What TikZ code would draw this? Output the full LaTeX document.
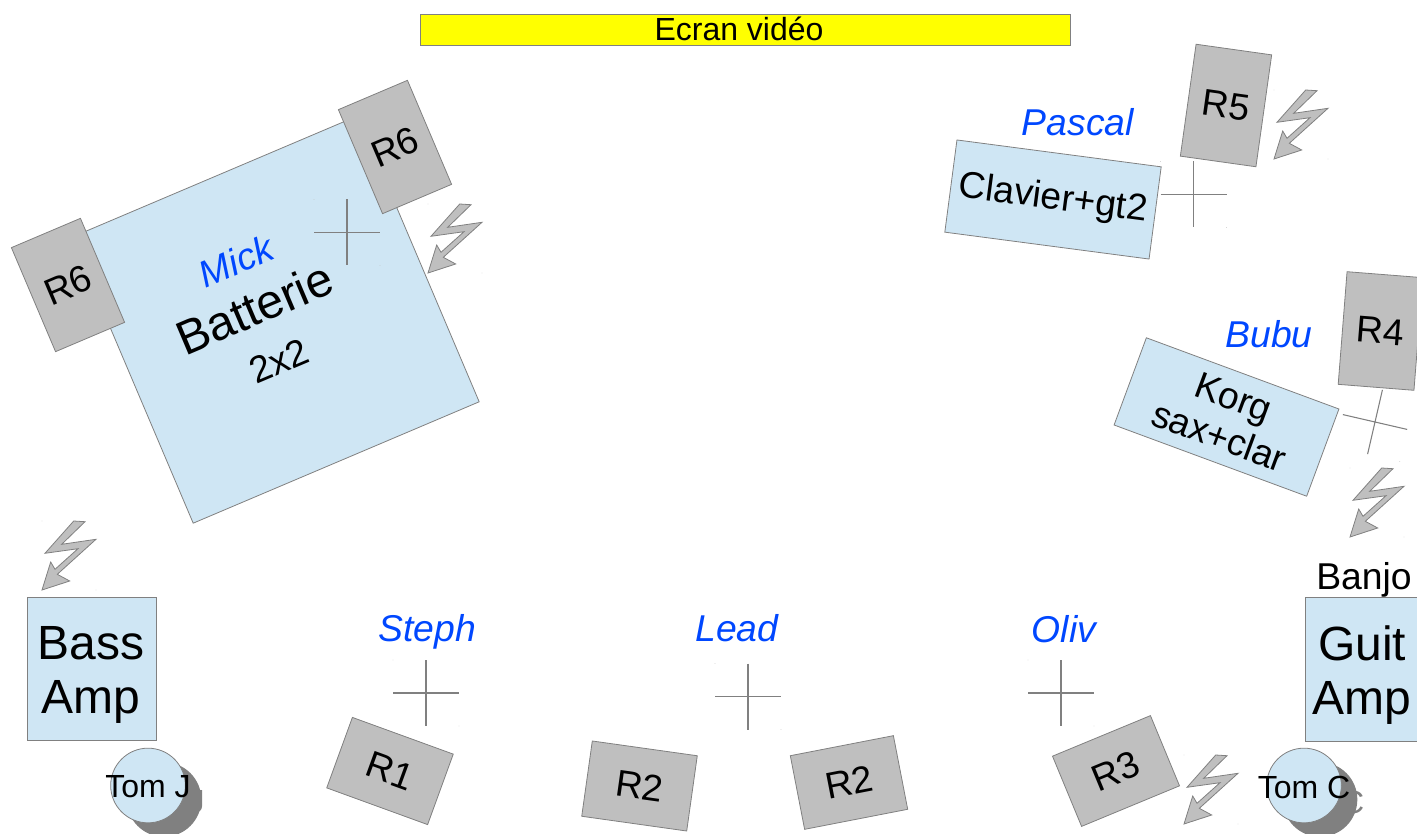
\documentclass[tikz,border=0pt]{standalone}
\usepackage{fontspec}
\setmainfont{Liberation Sans}
\definecolor{boxblue}{HTML}{CFE6F4}
\definecolor{wedgegray}{HTML}{BFBFBF}
\definecolor{edgegray}{HTML}{808080}
\definecolor{nameblue}{HTML}{0047FF}
\definecolor{screenyellow}{HTML}{FFFF00}
\tikzset{
  small text/.style={font=\fontsize{28}{31.5}\selectfont},
  big text/.style={font=\fontsize{36}{40.5}\selectfont},
  tom text/.style={font=\fontsize{24}{28}\selectfont},
  musician/.style={text=nameblue,font=\fontsize{28}{31.5}\selectfont\itshape},
  stand/.style={draw=edgegray,line width=0.6pt,fill=boxblue,inner sep=0pt,align=center},
  wedge/.style={draw=edgegray,line width=0.6pt,fill=wedgegray,inner sep=0pt,small text},
  tom/.style={circle,draw=edgegray,line width=0.6pt,fill=boxblue,inner sep=0pt,minimum size=56pt},
  tom shadow/.style={circle,fill=edgegray,inner sep=0pt,minimum size=56pt},
  pics/micro/.style={code={
    \draw[edgegray,line width=0.8pt] (-33,0) -- (33,0) (0,-33) -- (0,33);
    \fill[edgegray!50] (-33,-33) circle (0.3pt) (33,33) circle (0.3pt);
  }},
  pics/bolt/.style={code={
    \draw[edgegray,line width=0.6pt,fill=wedgegray,line join=miter]
      (31.7,0) -- (43,0.7) -- (19.7,23.3) -- (54,18.3) -- (15.3,53.3) -- (27.7,60)
      -- (0,69) -- (8.7,41) -- (13,48.3) -- (36,27.7) -- (3,32.3) -- cycle;
    \fill[edgegray!50] (0,0) circle (0.3pt) (54,69) circle (0.3pt);
  }}
}

\begin{document}
\begin{tikzpicture}[x=0.75pt,y=-0.75pt]
  \useasboundingbox (0,0) rectangle (1417,834);

  % Screen
  \node[draw=edgegray,line width=0.6pt,fill=screenyellow,inner sep=0pt,minimum width=488pt,minimum height=23.25pt] (screen) at (745.5,29.5) {};
  \node[font=\fontsize{24}{28}\selectfont] (screenlabel) at (739,29) {Ecran vidéo};

  % Drums
  \node[stand,rotate=23,minimum size=233pt] (kit) at (275.5,319.5) {};
  \node[wedge,rotate=23,minimum width=56.25pt,minimum height=84.75pt] (rsixtop) at (395,147) {R6};
  \node[wedge,rotate=23,minimum width=56.25pt,minimum height=84.75pt] (rsixleft) at (68,285) {R6};
  \node[musician,rotate=23] (mick) at (236,261) {Mick};
  \node[big text,rotate=23] (batterie) at (254.5,308) {Batterie};
  \node[small text,rotate=23] (twobytwo) at (279,361) {2x2};
  \pic at (347,232.5) {micro};
  \pic at (428,204) {bolt};

  % Keyboards
  \node[stand,small text,rotate=-7.5,minimum width=154.5pt,minimum height=69.75pt] (clavier) at (1053,199.5) {Clavier+gt2};
  \node[wedge,rotate=-8,minimum width=57.25pt,minimum height=84.75pt] (rfive) at (1226,105.5) {R5};
  \node[musician] (pascal) at (1078,122) {Pascal};
  \pic at (1193.5,194.5) {micro};
  \pic at (1274,90) {bolt};

  % Sax
  \node[stand,small text,rotate=-20.3,minimum width=154pt,minimum height=69.75pt] (korg) at (1226.5,417) {Korg\\sax+clar};
  \node[wedge,rotate=-4.5,minimum width=57pt,minimum height=84.75pt] (rfour) at (1380.5,331) {R4};
  \node[musician] (bubu) at (1269,334) {Bubu};
  \pic[rotate=-13] at (1375,422) {micro};
  \pic at (1350,468) {bolt};

  % Bass side
  \node[stand,minimum width=96.75pt,minimum height=107.25pt] (bassamp) at (91.5,668.5) {};
  \node[big text,align=center] (basslabel) at (91,675) {Bass\\Amp};
  \pic at (42,521) {bolt};
  \node[tom text,text=edgegray] (tomjecho) at (162,802) {Tom J};
  \node[tom shadow] (tomjshadow) at (164,799.5) {};
  \node[tom] (tomj) at (148,785.5) {};
  \node[tom text] (tomjlabel) at (148,787) {Tom J};

  % Front line
  \node[musician] (steph) at (427,632) {Steph};
  \pic at (426,693) {micro};
  \node[wedge,rotate=-20,minimum width=80.5pt,minimum height=56.25pt] (rone) at (390,771) {R1};
  \node[musician] (lead) at (737,628) {Lead};
  \pic at (748,696.5) {micro};
  \node[wedge,rotate=-8,minimum width=79.5pt,minimum height=57pt] (rtwoleft) at (639.5,786) {R2};
  \node[wedge,rotate=11,minimum width=78.75pt,minimum height=56.25pt] (rtworight) at (849,782.5) {R2};
  \node[musician] (oliv) at (1064,629) {Oliv};
  \pic at (1061,693) {micro};
  \node[wedge,rotate=22.5,minimum width=79.5pt,minimum height=57pt] (rthree) at (1116,771) {R3};
  \pic at (1184,755) {bolt};

  % Guitar side
  \node[small text] (banjo) at (1364,580) {Banjo};
  \node[stand,minimum width=86.25pt,minimum height=108pt] (guitamp) at (1362.5,669) {};
  \node[big text,align=center] (guitlabel) at (1362,675) {Guit\\Amp};
  \node[tom text,text=edgegray] (tomcecho) at (1318,802) {Tom C};
  \node[tom shadow] (tomcshadow) at (1320,799.5) {};
  \node[tom] (tomc) at (1304,785.5) {};
  \node[tom text] (tomclabel) at (1304,787) {Tom C};
\end{tikzpicture}
\end{document}
